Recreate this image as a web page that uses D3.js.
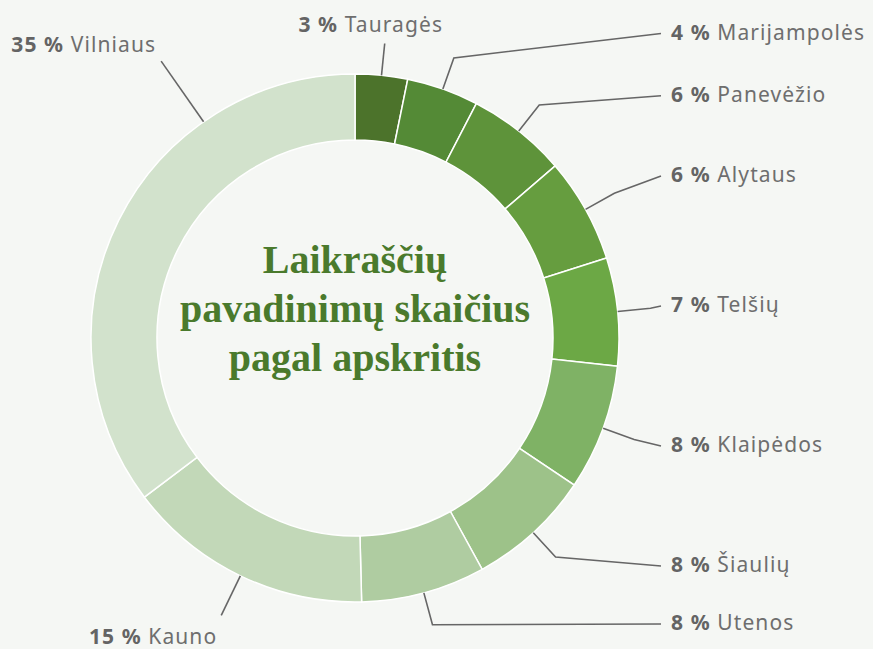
<!DOCTYPE html>
<html>
<head>
<meta charset="utf-8">
<script src="https://cdn.jsdelivr.net/npm/d3@7"></script>
<style>
	body { margin: 0; background: #f5f7f4; }
	svg { display: block; }
	.label { font-family: "Noto Sans", "Open Sans", sans-serif; font-size: 21px; fill: #6e6e6e; letter-spacing: 1.1px; }
	.label .pct { font-weight: 700; fill: #646464; }
	.title { font-family: "Liberation Serif", "DejaVu Serif", serif; font-weight: 700; font-size: 40px; fill: #4a7a2c; }
</style>
</head>
<body>
<svg width="873" height="649"></svg>
<script>
const regions = ["Tauragės", "Marijampolės", "Panevėžio", "Alytaus", "Telšių", "Klaipėdos", "Šiaulių", "Utenos", "Kauno", "Vilniaus"];
const shares = [3.2, 4.4, 6.1, 6.4, 6.6, 7.7, 7.6, 7.6, 15.1, 35.3];
const colors = ["#4c732b", "#548a36", "#5e933a", "#669d3f", "#6ca845", "#7fb265", "#9dc289", "#afcca1", "#c2d8b8", "#d2e2cc"];
const titleLines = ["Laikraščių", "pavadinimų skaičius", "pagal apskritis"];

const w = 873;
const h = 649;
const cx = 355;
const cy = 338;
const outerR = 264;
const innerR = 198;

// where each label sits (layout only)
const labelLayout = [
	{ type: 'radial', len: 32, anchor: 'middle', dx: -14, dy: -11.5 },
	{ type: 'right', y: 39.5 },
	{ type: 'right', y: 101.7 },
	{ type: 'right', y: 182 },
	{ type: 'right', y: 312 },
	{ type: 'right', y: 452 },
	{ type: 'right', y: 572 },
	{ type: 'right', y: 630 },
	{ type: 'radial', len: 44, anchor: 'end', dx: -4, dy: 29 },
	{ type: 'radial', len: 74, anchor: 'end', dx: -5, dy: -9, angle: 325 }
];

const data = regions.map((name, i) => ({ name, value: shares[i], color: colors[i] }));

const pie = d3.pie()
	.value(d => d.value)
	.sort(null);

const arc = d3.arc()
	.innerRadius(innerR)
	.outerRadius(outerR);

const svg = d3.select('svg');
const g = svg.append('g')
	.attr('transform', 'translate(' + cx + ',' + cy + ')');

const arcs = pie(data);

g.selectAll('path.slice')
	.data(arcs)
	.enter()
	.append('path')
	.attr('class', 'slice')
	.attr('d', arc)
	.attr('fill', d => d.data.color)
	.attr('stroke', '#ffffff')
	.attr('stroke-width', 1.5);

const pointAt = (a, r) => [r * Math.sin(a), -r * Math.cos(a)];
const total = d3.sum(shares);

arcs.forEach((d, i) => {
	const lay = labelLayout[i];
	const a = lay.angle !== undefined ? lay.angle * Math.PI / 180 : (d.startAngle + d.endAngle) / 2;
	const p0 = pointAt(a, outerR);
	let pts, tx, ty, anchor;

	if (lay.type === 'right') {
		const p1 = pointAt(a, outerR + 33);
		const end = [661 - cx, lay.y - 6 - cy];
		pts = [p0, p1, end];
		tx = 671 - cx;
		ty = lay.y - cy;
		anchor = 'start';
	} else {
		const p1 = pointAt(a, outerR + lay.len);
		pts = [p0, p1];
		tx = p1[0] + lay.dx;
		ty = p1[1] + lay.dy;
		anchor = lay.anchor;
	}

	g.append('path')
		.attr('d', d3.line()(pts))
		.attr('fill', 'none')
		.attr('stroke', '#666666')
		.attr('stroke-width', 1.6);

	const text = g.append('text')
		.attr('class', 'label')
		.attr('x', tx)
		.attr('y', ty)
		.attr('text-anchor', anchor);
	text.append('tspan')
		.attr('class', 'pct')
		.text(Math.round(d.data.value / total * 100) + ' %');
	text.append('tspan')
		.text(' ' + d.data.name);
});

svg.append('text')
	.attr('class', 'title')
	.attr('text-anchor', 'middle')
	.selectAll('tspan')
	.data(titleLines)
	.enter()
	.append('tspan')
	.attr('x', cx)
	.attr('y', (d, i) => 273 + i * 49)
	.text(d => d);
</script>
</body>
</html>
